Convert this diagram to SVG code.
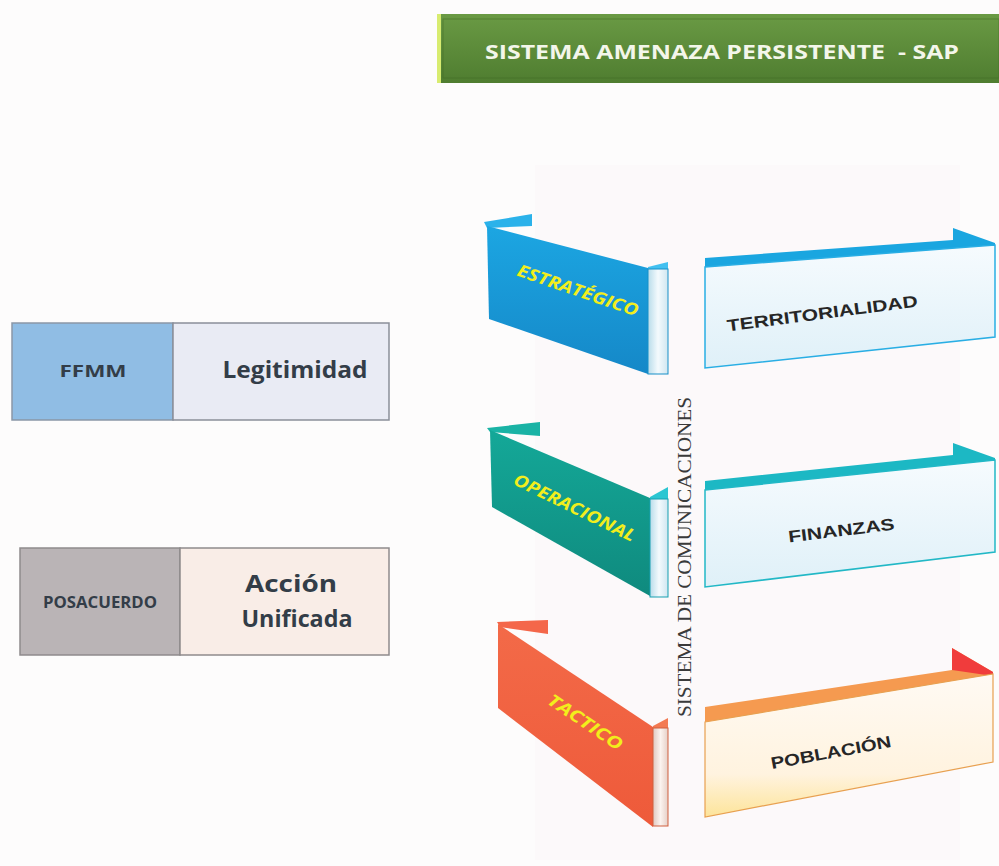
<svg xmlns="http://www.w3.org/2000/svg" width="999" height="866" viewBox="0 0 999 866">
<defs>
<linearGradient id="gHead" x1="0" y1="0" x2="0" y2="1"><stop offset="0" stop-color="#6a9a44"/><stop offset="1" stop-color="#4f7d30"/></linearGradient>
<linearGradient id="gSide" x1="0" y1="0" x2="1" y2="0"><stop offset="0" stop-color="#b8dcea"/><stop offset="0.5" stop-color="#f4fafd"/><stop offset="1" stop-color="#cfe6f0"/></linearGradient>
<linearGradient id="gSideT" x1="0" y1="0" x2="1" y2="0"><stop offset="0" stop-color="#e0c8c0"/><stop offset="0.5" stop-color="#fbf3ef"/><stop offset="1" stop-color="#e6cfc6"/></linearGradient>
<linearGradient id="gFaceB" x1="0" y1="0" x2="0" y2="1"><stop offset="0" stop-color="#f6fbfe"/><stop offset="1" stop-color="#dff0f8"/></linearGradient>
<linearGradient id="gFaceP" x1="0" y1="0" x2="0" y2="1"><stop offset="0" stop-color="#fffaf4"/><stop offset="0.7" stop-color="#fff3df"/><stop offset="1" stop-color="#fde49a"/></linearGradient>
<linearGradient id="gBlue" x1="0" y1="0" x2="0" y2="1"><stop offset="0" stop-color="#1ca6e2"/><stop offset="1" stop-color="#1588c8"/></linearGradient>
<linearGradient id="gTeal" x1="0" y1="0" x2="0" y2="1"><stop offset="0" stop-color="#14a898"/><stop offset="1" stop-color="#0f8a7e"/></linearGradient>
<linearGradient id="gRed" x1="0" y1="0" x2="0" y2="1"><stop offset="0" stop-color="#f36a48"/><stop offset="1" stop-color="#ee5a3a"/></linearGradient>
</defs>
<style>
.lbl{font-family:"Liberation Sans",Arial,sans-serif;font-weight:bold;fill:#262626;text-anchor:middle}
.ylw{font-family:"Open Sans","Liberation Sans",sans-serif;font-weight:bold;font-style:italic;fill:#f2ee1c;text-anchor:middle}
.box{font-family:"Open Sans","Liberation Sans",sans-serif;font-weight:bold;fill:#333d48;text-anchor:middle}
</style>
<rect x="0" y="0" width="999" height="866" fill="#fdfcfc"/>
<rect x="535" y="165" width="425" height="695" fill="#fcf9fa"/>

<g id="header">
<rect x="437" y="14" width="562" height="69" fill="url(#gHead)"/>
<rect x="437" y="14" width="4" height="69" fill="#d8ec70"/>
<rect x="443" y="19" width="556" height="59" fill="none" stroke="#3f6a24" stroke-width="1" opacity="0.5"/>
<text x="722" y="59" font-family="'Open Sans','Liberation Sans',sans-serif" font-weight="bold" font-size="19" fill="#f3f6ea" text-anchor="middle" textLength="474" lengthAdjust="spacingAndGlyphs" xml:space="preserve">SISTEMA AMENAZA PERSISTENTE  - SAP</text>
</g>

<g id="ffmm">
<rect x="12" y="323" width="161" height="97" fill="#90bde4" stroke="#8a97a6" stroke-width="1.5"/>
<rect x="173" y="323" width="216" height="97" fill="#e9ebf4" stroke="#8a8f99" stroke-width="1.5"/>
<text class="box" x="93" y="377" font-size="16" textLength="67" lengthAdjust="spacingAndGlyphs">FFMM</text>
<text class="box" x="295" y="378" font-size="23" textLength="145" lengthAdjust="spacingAndGlyphs">Legitimidad</text>
</g>

<g id="posacuerdo">
<rect x="20" y="548" width="160" height="107" fill="#bab4b6" stroke="#8f8a8c" stroke-width="1.5"/>
<rect x="180" y="548" width="209" height="107" fill="#f9ede7" stroke="#8f8a8c" stroke-width="1.5"/>
<text class="box" x="100" y="608" font-size="16" textLength="114" lengthAdjust="spacingAndGlyphs">POSACUERDO</text>
<text class="box" x="291" y="592" font-size="24" textLength="92" lengthAdjust="spacingAndGlyphs">Acción</text>
<text class="box" x="297" y="627" font-size="24" textLength="111" lengthAdjust="spacingAndGlyphs">Unificada</text>
</g>

<g id="estrategico">
<polygon points="484,222 532,214 532,226 487,228" fill="#2bb2ea"/>
<polygon points="487,226 648,268 648,374 489,319" fill="url(#gBlue)"/>
<polygon points="648,267 668,262 668,271 648,271" fill="#42c0f0"/>
<rect x="648" y="269" width="20" height="105" fill="url(#gSide)" stroke="#1690c8" stroke-width="1"/>
<text class="ylw" font-size="17" transform="translate(576,296) rotate(19)" textLength="127" lengthAdjust="spacingAndGlyphs">ESTRATÉGICO</text>
</g>

<g id="territorialidad">
<polygon points="705,258 953,240 953,228 995,243 995,247 705,268" fill="#1aa6e0"/>
<polygon points="705,267 995,245 995,337 705,368" fill="url(#gFaceB)" stroke="#29aee4" stroke-width="1.5"/>
<text class="lbl" font-size="16.5" transform="translate(823,319) rotate(-7.5)" textLength="192" lengthAdjust="spacingAndGlyphs">TERRITORIALIDAD</text>
</g>

<g id="operacional">
<polygon points="487,428 540,422 540,436 490,432" fill="#1ab3a5"/>
<polygon points="490,430 650,498 650,596 492,507" fill="url(#gTeal)"/>
<polygon points="650,497 668,487 668,500 650,500" fill="#2cc6d2"/>
<rect x="650" y="499" width="18" height="98" fill="url(#gSide)" stroke="#16a0b0" stroke-width="1"/>
<text class="ylw" font-size="17" transform="translate(572,513) rotate(26)" textLength="133" lengthAdjust="spacingAndGlyphs">OPERACIONAL</text>
</g>

<g id="finanzas">
<polygon points="705,481 953,455 953,443 995,458 995,462 705,491" fill="#1cb8c4"/>
<polygon points="705,490 995,460 995,552 705,587" fill="url(#gFaceB)" stroke="#22b8c6" stroke-width="1.5"/>
<text class="lbl" font-size="16.5" transform="translate(842,536) rotate(-7)" textLength="107" lengthAdjust="spacingAndGlyphs">FINANZAS</text>
</g>

<g id="tactico">
<polygon points="497,622 548,620 548,634 500,627" fill="#f4674a"/>
<polygon points="498,624 653,727 653,827 498,708" fill="url(#gRed)"/>
<polygon points="653,726 668,718 668,730 653,730" fill="#f37a52"/>
<rect x="653" y="728" width="15" height="98" fill="url(#gSideT)" stroke="#d0603e" stroke-width="1"/>
<text class="ylw" font-size="17" transform="translate(582,727) rotate(34)" textLength="86" lengthAdjust="spacingAndGlyphs">TACTICO</text>
</g>

<g id="poblacion">
<polygon points="705,707 952,670 952,648 993,672 993,677 705,724" fill="#f59a50"/>
<polygon points="952,648 993,672 993,676 952,670" fill="#f03c3c"/>
<polygon points="705,722 993,674 993,762 705,817" fill="url(#gFaceP)" stroke="#e8a050" stroke-width="1.2"/>
<text class="lbl" font-size="16.5" transform="translate(832,758) rotate(-10.5)" textLength="122" lengthAdjust="spacingAndGlyphs">POBLACIÓN</text>
</g>

<g id="comunicaciones">
<text transform="translate(691,557) rotate(-90)" font-family="'Liberation Serif','Times New Roman',serif" font-size="18.5" fill="#3a3a3a" text-anchor="middle" textLength="320" lengthAdjust="spacingAndGlyphs">SISTEMA DE COMUNICACIONES</text>
</g>

<g id="connectors"></g>
</svg>
